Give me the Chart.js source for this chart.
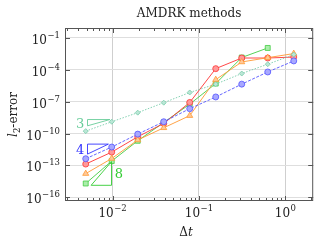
<!DOCTYPE html>
<html>
<head>
<meta charset="utf-8">
<script src="https://cdn.jsdelivr.net/npm/chart.js@4"></script>
<style>
  html, body { margin: 0; padding: 0; background: #fff; }
  #wrap { width: 318px; height: 241px; }
</style>
</head>
<body>
<div id="wrap"><canvas id="amdrk-canvas"></canvas></div>
<script>
// time steps (ascending)
const dtValues = [0.0048828125, 0.009765625, 0.01953125, 0.0390625, 0.078125, 0.15625, 0.3125, 0.625, 1.25];

// l2 errors
const blueErr   = [4.3e-13, 5.4e-12, 8.9e-11, 1.3e-9, 2.2e-8, 2.8e-7, 4.5e-6, 6.3e-5, 6.9e-4];
const redErr    = [1.35e-13, 1.8e-12, 5.0e-11, 8.9e-10, 8.5e-8, 1.3e-4, 1.3e-3, 1.3e-3, 1.6e-3];
const greenErr  = [2.0e-15, 2.6e-13, 2.1e-11, 1.1e-9, 5.9e-8, 5.1e-6, 1.45e-3, 1.15e-2];
const orangeErr = [1.7e-14, 4.5e-13, 2.5e-11, 3.5e-10, 4.9e-9, 1.2e-5, 5.5e-4, 1.4e-3, 3.4e-3];
const tealErr   = [1.7e-10, 1.3e-9, 9.3e-9, 8.1e-8, 7.4e-7, 4.5e-6, 4.5e-5, 3.4e-4, 2.75e-3];

// slope triangles: [dt, err] corners
const slope3 = [[0.00512, 5.4e-10], [0.00512, 2.1e-9], [0.00929, 2.1e-9]];
const slope4 = [[0.00512, 1.17e-12], [0.00512, 1.02e-11], [0.00893, 1.02e-11]];
const slope8 = [[0.00564, 1.35e-15], [0.00971, 1.35e-15], [0.00971, 2.3e-13]];
const slopeLabels = ["3", "4", "8"];
const slopeLabelPos = [[0.0042, 7e-10], [0.0042, 2.5e-12], [0.0118, 1.5e-14]];

const xMajor = [0.01, 0.1, 1];
const xMajorLabels = ["\u22122", "\u22121", "0"];
const yMajor = [1e-1, 1e-4, 1e-7, 1e-10, 1e-13, 1e-16];
const yMajorLabels = ["\u22121", "\u22124", "\u22127", "\u221210", "\u221213", "\u221216"];

const FONT = "'DejaVu Serif', 'Liberation Serif', serif";

function toPts(xs, ys) {
  return ys.map((y, i) => ({ x: xs[i], y: y }));
}
function triPts(tri) {
  return tri.concat([tri[0]]).map((p) => ({ x: p[0], y: p[1] }));
}

function series(data, line, fill, style, radius, dash) {
  return {
    data: toPts(dtValues, data),
    borderColor: line,
    backgroundColor: fill,
    pointBackgroundColor: fill,
    pointBorderColor: line,
    pointStyle: style,
    pointRadius: radius,
    pointBorderWidth: 0.8,
    borderWidth: 0.9,
    borderDash: dash || [],
    showLine: true,
  };
}
function triangle(tri, color) {
  return {
    data: triPts(tri),
    borderColor: color,
    borderWidth: 0.9,
    pointRadius: 0,
    showLine: true,
  };
}

const triColors = ["#66cc99", "#3333ff", "#33cc33"];

const textPlugin = {
  id: "texts",
  afterDraw(chart) {
    const ctx = chart.ctx;
    const area = chart.chartArea;
    const xs = chart.scales.x;
    const ys = chart.scales.y;
    ctx.save();

    // frame and tick marks
    ctx.strokeStyle = "#555";
    ctx.lineWidth = 1;
    ctx.strokeRect(area.left + 0.5, area.top + 0.5, area.right - area.left - 1, area.bottom - area.top - 1);
    ctx.beginPath();
    for (let k = -3; k <= 0; k++) {
      for (let m = 2; m <= 9; m++) {
        const v = m * Math.pow(10, k);
        if (v < xs.min || v > xs.max) continue;
        const px = Math.round(xs.getPixelForValue(v)) + 0.5;
        ctx.moveTo(px, area.bottom);
        ctx.lineTo(px, area.bottom - 3);
        ctx.moveTo(px, area.top);
        ctx.lineTo(px, area.top + 3);
      }
    }
    xMajor.forEach((v) => {
      const px = Math.round(xs.getPixelForValue(v)) + 0.5;
      ctx.moveTo(px, area.bottom);
      ctx.lineTo(px, area.bottom - 5);
      ctx.moveTo(px, area.top);
      ctx.lineTo(px, area.top + 5);
    });
    yMajor.forEach((v) => {
      const py = Math.round(ys.getPixelForValue(v)) + 0.5;
      ctx.moveTo(area.left, py);
      ctx.lineTo(area.left + 5, py);
      ctx.moveTo(area.right, py);
      ctx.lineTo(area.right - 5, py);
    });
    ctx.stroke();

    ctx.fillStyle = "#222";
    ctx.textBaseline = "alphabetic";
    const BASE = "12px " + FONT;
    const SUP = "8.5px " + FONT;

    // y tick labels
    yMajor.forEach((v, i) => {
      const py = ys.getPixelForValue(v);
      ctx.font = SUP;
      const ew = ctx.measureText(yMajorLabels[i]).width;
      const right = area.left - 5;
      ctx.textAlign = "left";
      ctx.fillText(yMajorLabels[i], right - ew, py);
      ctx.font = BASE;
      const bw = ctx.measureText("10").width;
      ctx.fillText("10", right - ew - bw - 0.5, py + 6);
    });

    // x tick labels
    xMajor.forEach((v, i) => {
      const px = xs.getPixelForValue(v);
      ctx.font = BASE;
      const bw = ctx.measureText("10").width;
      ctx.font = SUP;
      const ew = ctx.measureText(xMajorLabels[i]).width;
      const left = px - (bw + ew + 0.5) / 2;
      ctx.textAlign = "left";
      ctx.font = BASE;
      ctx.fillText("10", left, area.bottom + 16);
      ctx.font = SUP;
      ctx.fillText(xMajorLabels[i], left + bw + 0.5, area.bottom + 10);
    });

    // title
    const cx = (area.left + area.right) / 2;
    ctx.textAlign = "center";
    ctx.font = BASE;
    ctx.fillText("AMDRK methods", cx, 17);

    // x title
    ctx.font = BASE;
    const dw = ctx.measureText("\u0394").width;
    ctx.font = "italic " + BASE;
    const tw = ctx.measureText("t").width;
    ctx.textAlign = "left";
    ctx.font = BASE;
    ctx.fillText("\u0394", cx - 3 - (dw + tw) / 2, 236);
    ctx.font = "italic " + BASE;
    ctx.fillText("t", cx - 3 - (dw + tw) / 2 + dw, 236);

    // y title
    ctx.save();
    ctx.translate(17, (area.top + area.bottom) / 2);
    ctx.rotate(-Math.PI / 2);
    ctx.font = "italic " + BASE;
    const lw = ctx.measureText("l").width;
    ctx.font = SUP;
    const sw = ctx.measureText("2").width;
    ctx.font = BASE;
    const rw = ctx.measureText("-error").width;
    let sx = -(lw + sw + rw) / 2;
    ctx.textAlign = "left";
    ctx.font = "italic " + BASE;
    ctx.fillText("l", sx, 0);
    ctx.font = SUP;
    ctx.fillText("2", sx + lw, 3);
    ctx.font = BASE;
    ctx.fillText("-error", sx + lw + sw, 0);
    ctx.restore();

    // slope labels
    slopeLabels.forEach((t, i) => {
      ctx.fillStyle = triColors[i];
      ctx.font = "13px " + FONT;
      ctx.textAlign = "center";
      ctx.textBaseline = "middle";
      ctx.fillText(t, xs.getPixelForValue(slopeLabelPos[i][0]), ys.getPixelForValue(slopeLabelPos[i][1]));
    });

    ctx.restore();
  },
};

document.addEventListener("DOMContentLoaded", () => {
  const ctx = document.getElementById("amdrk-canvas").getContext("2d");
  new Chart(ctx, {
    type: "scatter",
    data: {
      datasets: [
        triangle(slope3, triColors[0]),
        triangle(slope4, triColors[1]),
        triangle(slope8, triColors[2]),
        series(tealErr, "#77ccaa", "#bbe6d6", "rectRot", 2.5, [1.5, 1.5]),
        series(blueErr, "#5555ff", "#a8a8ff", "circle", 3, [3, 1.5]),
        series(orangeErr, "#ff9933", "#ffc999", "triangle", 3.5),
        series(redErr, "#ff3333", "#ff9999", "circle", 3),
        series(greenErr, "#44cc44", "#aaeeaa", "rect", 3.5),
      ],
    },
    options: {
      responsive: true,
      maintainAspectRatio: false,
      animation: false,
      layout: { padding: { left: 65, top: 28, right: 2, bottom: 40 } },
      plugins: {
        legend: { display: false },
        tooltip: { enabled: false },
        title: { display: false },
      },
      scales: {
        x: {
          type: "logarithmic",
          min: 0.00281,
          max: 2.1,
          afterBuildTicks: (scale) => {
            scale.ticks = xMajor.map((v) => ({ value: v }));
          },
          ticks: { display: false },
          grid: { color: "#cfcfcf", drawTicks: false, lineWidth: 1 },
          border: { display: false },
        },
        y: {
          type: "logarithmic",
          min: 4.5e-17,
          max: 0.87,
          afterBuildTicks: (scale) => {
            scale.ticks = yMajor.map((v) => ({ value: v }));
          },
          ticks: { display: false },
          grid: { color: "#dedede", drawTicks: false, lineWidth: 1 },
          border: { display: false },
        },
      },
    },
    plugins: [textPlugin],
  });
});
</script>
</body>
</html>
